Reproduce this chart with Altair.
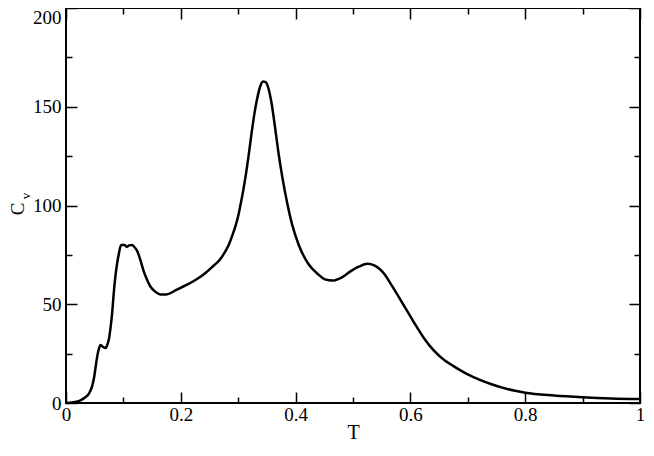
import altair as alt
import pandas as pd

# ---- data ----
T = [0.000, 0.010, 0.020, 0.026, 0.033, 0.040, 0.045, 0.049, 0.052, 0.055,
     0.058, 0.060, 0.064, 0.069, 0.072, 0.075, 0.078, 0.0805, 0.083, 0.086,
     0.089, 0.092, 0.096, 0.102, 0.106, 0.110, 0.115, 0.119, 0.124, 0.130,
     0.135, 0.141, 0.147, 0.155, 0.164, 0.175, 0.193, 0.210, 0.227, 0.244,
     0.257, 0.267, 0.276, 0.284, 0.290, 0.296, 0.301, 0.305, 0.309, 0.313,
     0.318, 0.323, 0.328, 0.333, 0.338, 0.343, 0.348, 0.353, 0.358, 0.364,
     0.370, 0.3765, 0.385, 0.394, 0.405, 0.422, 0.440, 0.451, 0.465, 0.480,
     0.495, 0.510, 0.525, 0.537, 0.546, 0.555, 0.563, 0.572, 0.589, 0.606,
     0.624, 0.641, 0.660, 0.675, 0.700, 0.720, 0.740, 0.760, 0.780, 0.800,
     0.850, 0.900, 0.950, 1.000]
Cv = [0.0, 0.2, 0.8, 1.5, 2.8, 4.8, 8.0, 13.0, 19.0, 24.5,
      28.0, 29.4, 28.5, 27.8, 29.5, 32.7, 39.0, 45.9, 55.0, 64.0,
      70.5, 75.5, 80.0, 80.0, 79.0, 79.8, 80.0, 79.0, 77.0, 72.0,
      67.0, 62.5, 59.0, 56.5, 55.0, 55.0, 57.4, 59.8, 62.5, 66.1,
      69.5, 72.2, 76.0, 80.4, 85.0, 90.3, 96.0, 101.8, 108.0, 115.0,
      125.0, 136.0, 146.0, 154.0, 160.0, 162.8, 162.5, 159.0, 152.0, 140.0,
      127.0, 115.0, 101.8, 90.3, 80.4, 70.5, 65.0, 62.6, 62.0, 63.5,
      66.5, 69.0, 70.5, 69.7, 68.0, 65.2, 61.6, 57.4, 49.2, 40.9,
      32.7, 26.5, 21.5, 18.7, 14.5, 11.8, 9.6, 7.8, 6.3, 5.2,
      3.8, 2.9, 2.3, 2.0]

x_tick_values = [0.0, 0.1, 0.2, 0.3, 0.4, 0.5, 0.6, 0.7, 0.8, 0.9, 1.0]
y_tick_values = [0, 25, 50, 75, 100, 125, 150, 175, 200]
x_title = "T"
y_title_main = "C"
y_title_sub = "v"

df = pd.DataFrame({"T": T, "Cv": Cv})

W, H = 574, 395
FONT = "Liberation Serif"
FS = 19
MAJ, MIN = 11, 6

x_axis = alt.Axis(
    values=x_tick_values,
    labelExpr="round(datum.value*10) % 2 == 0 ? (datum.value == 0 ? '0' : (datum.value > 0.99 ? '1' : format(datum.value, '.1f'))) : ''",
    grid=True, gridColor="black", gridWidth=1.5, gridOpacity=1,
    gridDash={"condition": {"test": "round(datum.value*10) % 2 == 0",
                            "value": [MAJ, H - 2 * MAJ, MAJ, 3000]},
              "value": [MIN, H - 2 * MIN, MIN, 3000]},
    ticks=False, tickSize=0, domain=False,
    labelFont=FONT, labelFontSize=FS, labelColor="black", labelPadding=2,
    labelFlush=False, labelOverlap=False,
    title=x_title, titleFont=FONT, titleFontSize=20, titleFontWeight="normal",
    titleColor="black", titleBaseline="top", titleY=19,
)

y_axis = alt.Axis(
    values=y_tick_values,
    labelExpr="datum.value % 50 == 0 ? format(datum.value, 'd') : ''",
    grid=True, gridColor="black", gridWidth=1.5, gridOpacity=1,
    gridDash={"condition": {"test": "datum.value % 50 == 0",
                            "value": [MAJ, W - 2 * MAJ, MAJ, 3000]},
              "value": [MIN, W - 2 * MIN, MIN, 3000]},
    ticks=False, tickSize=0, domain=False,
    labelFont=FONT, labelFontSize=FS, labelColor="black", labelPadding=5,
    labelFlush=False, labelOverlap=False,
    labelBaseline={"condition": {"test": "datum.value >= 199", "value": "top"},
                   "value": "middle"},
    title=None,
)

line = alt.Chart(df).mark_line(
    color="black", strokeWidth=2.5, interpolate="monotone"
).encode(
    x=alt.X("T:Q", scale=alt.Scale(domain=[0, 1], nice=False, zero=False), axis=x_axis),
    y=alt.Y("Cv:Q", scale=alt.Scale(domain=[0, 200], nice=False), axis=y_axis),
)

c_text = alt.Chart(pd.DataFrame({"s": [y_title_main]})).mark_text(
    angle=270, align="center", baseline="alphabetic", font=FONT, fontSize=FS, color="black"
).encode(text="s:N", x=alt.value(-42), y=alt.value(201))

v_text = alt.Chart(pd.DataFrame({"s": [y_title_sub]})).mark_text(
    angle=270, align="center", baseline="alphabetic", font=FONT, fontSize=13, color="black"
).encode(text="s:N", x=alt.value(-36), y=alt.value(188))

chart = alt.layer(line, c_text, v_text).properties(
    width=W, height=H,
    padding={"left": 58, "top": 0, "right": 6, "bottom": 39},
    autosize=alt.AutoSizeParams(type="none"),
).configure_view(stroke="black", strokeWidth=2)

chart.save("out.html", embed_options={"renderer": "svg", "actions": False})
